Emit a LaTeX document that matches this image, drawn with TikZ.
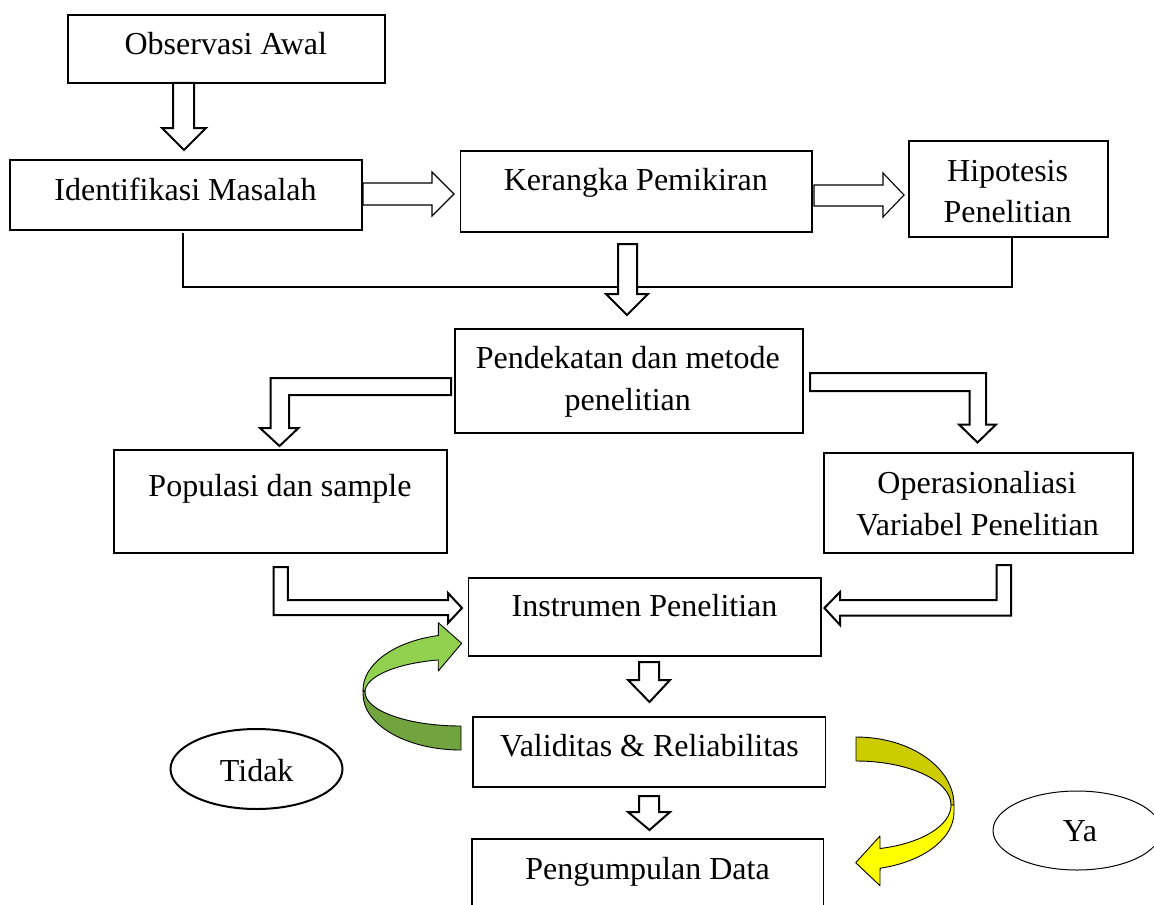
\documentclass[tikz,border=0pt]{standalone}
\usepackage{fontspec}
\setmainfont{Liberation Serif}
\usetikzlibrary{shapes.geometric}
\definecolor{lgreen}{HTML}{92D050}
\definecolor{dgreen}{HTML}{71A33F}
\definecolor{lyellow}{HTML}{FFFF00}
\definecolor{dyellow}{HTML}{CCCC00}
\begin{document}
\begin{tikzpicture}[x=0.5pt,y=0.5pt,
  thickbox/.style={draw, line width=1.1pt, inner sep=0pt, outer sep=0pt, rectangle},
  thinbox/.style={draw, line width=0.55pt, inner sep=0pt, outer sep=0pt, rectangle},
  txt/.style={font=\fontsize{16}{19}\selectfont, inner sep=0pt, anchor=base},
  blockthick/.style={draw, fill=white, line width=1pt, line join=miter},
  blockthin/.style={draw, fill=white, line width=0.55pt, line join=miter},
  conn/.style={draw, line width=0.6pt},
  curved/.style={draw, line width=0.45pt, line join=round}]
\useasboundingbox (0,0) rectangle (1154,-904);
\clip (0,0) rectangle (1154,-904);

% boxes
\node[thickbox, minimum width=158.5pt, minimum height=34pt] (oa) at (226.5,-49) {};
\node[thinbox, minimum width=176pt, minimum height=35pt] (im) at (186,-195) {};
\node[thinbox, minimum width=175.75pt, minimum height=40.5pt] (kp) at (636.25,-191.5) {};
\node[thinbox, minimum width=99.5pt, minimum height=48pt] (hp) at (1008.5,-189) {};
\node[thickbox, minimum width=174pt, minimum height=52pt] (pm) at (629,-381) {};
\node[thickbox, minimum width=166.5pt, minimum height=51.5pt] (ps) at (280.5,-501.5) {};
\node[thickbox, minimum width=154.5pt, minimum height=50pt] (ov) at (978.5,-503) {};
\node[thinbox, minimum width=176.25pt, minimum height=39pt] (ip) at (644.75,-617) {};
\node[thinbox, minimum width=176.2pt, minimum height=35pt] (vr) at (649.2,-752) {};
\node[thinbox, minimum width=175.75pt, minimum height=60.5pt] (pd) at (647.75,-899.5) {};
\node[draw, ellipse, line width=1pt, inner sep=0pt, minimum width=86pt, minimum height=40pt] (td) at (256.5,-769) {};
\node[draw, ellipse, line width=0.5pt, inner sep=0pt, minimum width=84pt, minimum height=39.5pt] (ya) at (1077,-830.5) {};

% texts
\node[txt] (toa) at (225.8,-55) {Observasi Awal};
\node[txt] (tim) at (185.5,-200) {Identifikasi Masalah};
\node[txt] (tkp) at (635.8,-190) {Kerangka Pemikiran};
\node[txt] (thp1) at (1007.6,-181.7) {Hipotesis};
\node[txt] (thp2) at (1007.6,-222.7) {Penelitian};
\node[txt] (tpm1) at (627.8,-368.3) {Pendekatan dan metode};
\node[txt] (tpm2) at (627.8,-410) {penelitian};
\node[txt] (tps) at (280,-496.7) {Populasi dan sample};
\node[txt] (tov1) at (977,-493.3) {Operasionaliasi};
\node[txt] (tov2) at (977.6,-535) {Variabel Penelitian};
\node[txt] (tip) at (644.5,-616.7) {Instrumen Penelitian};
\node[txt] (tvr) at (649.5,-756.7) {Validitas \& Reliabilitas};
\node[txt] (tpd) at (647.5,-879.3) {Pengumpulan Data};
\node[txt] (ttd) at (256.7,-781) {Tidak};
\node[txt] (tya) at (1080,-841.7) {Ya};

% thin connector line
\coordinate (c1) at (183,-233);
\coordinate (c2) at (1012,-287);
\draw[conn] (c1) |- (c2) -- (c2 |- hp.south);

% block arrows
\draw[blockthick] (173,-83) -- (194,-83) -- (194,-128) -- (206,-128) -- (184,-150) -- (162,-128) -- (173,-128) -- cycle;
\draw[blockthin] (363,-183) -- (432,-183) -- (432,-172) -- (454,-194) -- (432,-216) -- (432,-205) -- (363,-205) -- cycle;
\draw[blockthin] (814,-185) -- (883,-185) -- (883,-173) -- (904,-195) -- (883,-217) -- (883,-206) -- (814,-206) -- cycle;
\draw[blockthick] (618,-244) -- (637,-244) -- (637,-294) -- (648,-294) -- (627,-315) -- (606,-294) -- (618,-294) -- cycle;
\draw[blockthick] (451,-378) -- (270.6,-378) -- (270.6,-428) -- (260,-428) -- (279.5,-446) -- (298.5,-428) -- (289,-428) -- (289,-395) -- (451,-395) -- cycle;
\draw[blockthick] (810,-373) -- (986,-373) -- (986,-424.5) -- (996,-424.5) -- (977.5,-442.5) -- (959,-424.5) -- (969.6,-424.5) -- (969.6,-391) -- (810,-391) -- cycle;
\draw[blockthick] (273.6,-567) -- (287.8,-567) -- (287.8,-600) -- (448,-600) -- (448,-593) -- (462,-608) -- (448,-623) -- (448,-615) -- (273.6,-615) -- cycle;
\draw[blockthick] (996.5,-565) -- (1011,-565) -- (1011,-615.7) -- (840,-615.7) -- (840,-625) -- (824.4,-608) -- (840,-592) -- (840,-600) -- (996.5,-600) -- cycle;
\draw[blockthick] (639,-662) -- (659,-662) -- (659,-680) -- (670,-680) -- (649.5,-702) -- (628,-680) -- (639,-680) -- cycle;
\draw[blockthick] (639,-796) -- (659,-796) -- (659,-812) -- (670,-812) -- (649.5,-830) -- (628,-812) -- (639,-812) -- cycle;

% green curved arrow (Tidak)
\draw[curved, fill=dgreen] (365,-692) arc[start angle=180, end angle=270, x radius=96, y radius=34]
  -- (461,-750) arc[start angle=270, end angle=180, x radius=98, y radius=56]
  -- (363,-690) -- cycle;
\draw[curved, fill=lgreen] (438.3,-635.5) arc[start angle=103.4, end angle=180, x radius=98, y radius=56]
  -- (365,-692) arc[start angle=180, end angle=103.7, x radius=96, y radius=33]
  -- (438.3,-671) -- (461.7,-643.3) -- (438.3,-622.7) -- cycle;

% yellow curved arrow (Ya)
\draw[curved, fill=dyellow] (856,-737) arc[start angle=90, end angle=0, x radius=98, y radius=68]
  -- (951,-805) arc[start angle=0, end angle=90, x radius=95, y radius=44] -- cycle;
\draw[curved, fill=lyellow] (951,-805) -- (954,-805) -- (954,-812)
  arc[start angle=0, end angle=-75.8, x radius=98, y radius=58]
  -- (880,-885.7) -- (855.7,-862.7) -- (880,-836) -- (880,-848.5)
  arc[start angle=-75.4, end angle=0, x radius=95, y radius=45] -- cycle;
\end{tikzpicture}
\end{document}
